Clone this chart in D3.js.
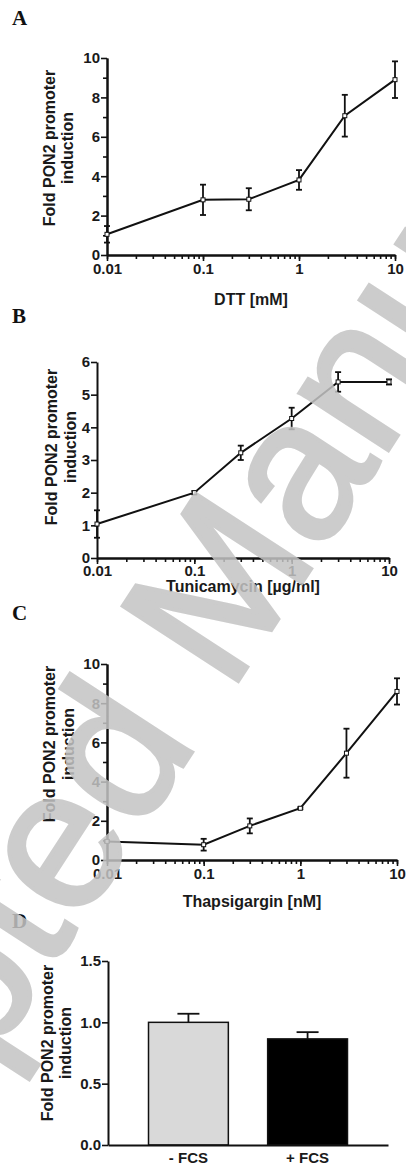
<!DOCTYPE html>
<html>
<head>
<meta charset="utf-8">
<script src="https://cdn.jsdelivr.net/npm/d3@7"></script>
<style>
  body { margin: 0; background: #fff; }
  svg text { font-family: Arial, "Liberation Sans", sans-serif; }
</style>
</head>
<body>
<svg id="fig" width="406" height="1171"></svg>
<script>
// doses used in panels A-C (log axis)
var doses = [0.01, 0.1, 0.3, 1, 3, 10];
var doseTicks = [0.01, 0.1, 1, 10];
var doseTickLabels = ["0.01", "0.1", "1", "10"];

// A: DTT
var dttMean = [1.05, 2.8, 2.83, 3.81, 7.07, 8.9];
var dttErr = [0.42, 0.77, 0.56, 0.5, 1.06, 0.93];
// B: tunicamycin
var tunMean = [1.04, 2.0, 3.22, 4.27, 5.39, 5.39];
var tunErr = [0.42, 0.05, 0.22, 0.33, 0.3, 0.08];
// C: thapsigargin
var thapMean = [0.95, 0.78, 1.74, 2.64, 5.45, 8.6];
var thapErr = [0.05, 0.3, 0.38, 0.05, 1.25, 0.67];

var ticksTen = [0, 2, 4, 6, 8, 10];
var minorTen = [1, 3, 5, 7, 9];
var ticksSix = [0, 1, 2, 3, 4, 5, 6];

// D: serum
var fcsLabels = ["- FCS", "+ FCS"];
var fcsMean = [1.0, 0.865];
var fcsErr = [0.07, 0.055];
var fcsTicks = [0, 0.5, 1.0, 1.5];

var yTitle = ["Fold PON2 promoter", "induction"];

var svg = d3.select("#fig");
var font = 15;

function styleAxis(sel) {
  sel.select(".domain").attr("stroke", "#111").attr("stroke-width", 2);
  sel.selectAll(".tick line").attr("stroke", "#111").attr("stroke-width", 1.6);
  sel.selectAll(".tick text").attr("fill", "#1a1a1a")
    .style("font-size", font + "px").style("font-weight", "bold");
}

function panelLetter(t, y) {
  svg.append("text").attr("x", 12).attr("y", y).text(t)
    .style("font-family", "'Liberation Serif','Times New Roman',serif")
    .style("font-weight", "bold").style("font-size", "21px").attr("fill", "#111");
}

function yLabel(cx, cy, xs) {
  var t = svg.append("g").attr("transform", "translate(0," + cy + ") rotate(-90)");
  yTitle.forEach(function (s, i) {
    t.append("text").attr("x", 0).attr("y", xs[i]).attr("text-anchor", "middle")
      .text(s).attr("fill", "#1a1a1a")
      .style("font-size", "16px").style("font-weight", "bold");
  });
}

function logPanel(p) {
  var x = d3.scaleLog().domain([0.01, 10]).range([p.x0, p.x1]);
  var y = d3.scaleLinear().domain([0, p.yMax]).range([p.yBottom, p.yTop]);
  var g = svg.append("g");

  // minor x ticks, then major
  g.append("g").attr("transform", "translate(0," + p.yBottom + ")")
    .call(d3.axisBottom(x).tickValues(x.ticks()).tickSize(4).tickFormat("").tickSizeOuter(0))
    .call(styleAxis);
  g.append("g").attr("transform", "translate(0," + p.yBottom + ")")
    .call(d3.axisBottom(x).tickValues(doseTicks).tickSize(6).tickPadding(p.pad).tickSizeOuter(0)
      .tickFormat(function (d, i) { return doseTickLabels[i]; }))
    .call(styleAxis);

  if (p.yMinor) {
    g.append("g").attr("transform", "translate(" + p.x0 + ",0)")
      .call(d3.axisLeft(y).tickValues(p.yMinor).tickSize(4).tickFormat("").tickSizeOuter(0))
      .call(styleAxis);
  }
  g.append("g").attr("transform", "translate(" + p.x0 + ",0)")
    .call(d3.axisLeft(y).tickValues(p.yTicks).tickSize(6).tickPadding(1).tickSizeOuter(0)
      .tickFormat(d3.format("d")))
    .call(styleAxis);

  var pts = doses.map(function (c, i) { return { c: c, m: p.mean[i], e: p.err[i] }; });

  g.append("path").datum(pts)
    .attr("d", d3.line().x(function (d) { return x(d.c); }).y(function (d) { return y(d.m); }))
    .attr("fill", "none").attr("stroke", "#111").attr("stroke-width", 2);

  var eb = g.selectAll(".eb").data(pts).enter().append("g")
    .attr("stroke", "#111").attr("stroke-width", 1.8);
  eb.append("line")
    .attr("x1", function (d) { return x(d.c); }).attr("x2", function (d) { return x(d.c); })
    .attr("y1", function (d) { return y(d.m - d.e); }).attr("y2", function (d) { return y(d.m + d.e); });
  [-1, 1].forEach(function (s) {
    eb.append("line")
      .attr("x1", function (d) { return x(d.c) - 3; }).attr("x2", function (d) { return x(d.c) + 3; })
      .attr("y1", function (d) { return y(d.m + s * d.e); }).attr("y2", function (d) { return y(d.m + s * d.e); });
  });

  g.selectAll(".pt").data(pts).enter().append("rect")
    .attr("x", function (d) { return x(d.c) - 2; }).attr("y", function (d) { return y(d.m) - 2; })
    .attr("width", 4).attr("height", 4)
    .attr("fill", "#fff").attr("stroke", "#111").attr("stroke-width", 1);

  g.append("text").attr("x", (p.x0 + p.x1) / 2).attr("y", p.titleY).attr("text-anchor", "middle")
    .text(p.xTitle).attr("fill", "#1a1a1a").style("font-size", "16px").style("font-weight", "bold");

  panelLetter(p.letter, p.letterY);
  yLabel(0, p.labelY, p.labelX);
}

logPanel({ letter: "A", mean: dttMean, err: dttErr, xTitle: "DTT [mM]", yMax: 10,
  yTicks: ticksTen, yMinor: minorTen, x0: 107, x1: 395, yBottom: 255, yTop: 58, pad: 2,
  letterY: 25, titleY: 305, labelY: 148, labelX: [55, 73] });
logPanel({ letter: "B", mean: tunMean, err: tunErr, xTitle: "Tunicamycin [\u00b5g/ml]", yMax: 6,
  yTicks: ticksSix, yMinor: null, x0: 97, x1: 389, yBottom: 558, yTop: 362, pad: 1,
  letterY: 323, titleY: 592, labelY: 447, labelX: [57, 76] });
logPanel({ letter: "C", mean: thapMean, err: thapErr, xTitle: "Thapsigargin [nM]", yMax: 10,
  yTicks: ticksTen, yMinor: minorTen, x0: 107, x1: 397, yBottom: 860, yTop: 664, pad: 2,
  letterY: 620, titleY: 907, labelY: 744, labelX: [55, 74] });

// panel D: bar chart
(function () {
  var x = d3.scaleBand().domain(fcsLabels).range([108, 388]).paddingInner(0.33).paddingOuter(0.34);
  var y = d3.scaleLinear().domain([0, 1.5]).range([1145, 961]);
  var g = svg.append("g");
  var fills = ["#d9d9d9", "#000"];

  g.selectAll(".cap").data(fcsMean).enter().append("g").each(function (m, i) {
    var cx = x(fcsLabels[i]) + x.bandwidth() / 2;
    var s = d3.select(this).attr("stroke", "#111").attr("stroke-width", 1.8);
    s.append("line").attr("x1", cx).attr("x2", cx).attr("y1", y(m)).attr("y2", y(m + fcsErr[i]));
    s.append("line").attr("x1", cx - 11).attr("x2", cx + 11).attr("y1", y(m + fcsErr[i])).attr("y2", y(m + fcsErr[i]));
  });

  g.selectAll(".bar").data(fcsMean).enter().append("rect")
    .attr("x", function (d, i) { return x(fcsLabels[i]); })
    .attr("y", function (d) { return y(d); })
    .attr("width", x.bandwidth())
    .attr("height", function (d) { return y(0) - y(d); })
    .attr("fill", function (d, i) { return fills[i]; })
    .attr("stroke", "#111").attr("stroke-width", 1.5);

  g.append("g").attr("transform", "translate(0,1145)")
    .call(d3.axisBottom(x).tickSize(0).tickPadding(7).tickSizeOuter(0))
    .call(styleAxis);
  g.append("g").attr("transform", "translate(108,0)")
    .call(d3.axisLeft(y).tickValues(fcsTicks).tickSize(6).tickPadding(1).tickSizeOuter(0)
      .tickFormat(d3.format(".1f")))
    .call(styleAxis);

  panelLetter("D", 928);
  yLabel(0, 1043, [53, 71]);
})();

// "Accepted Manuscript" watermark over the figure, pivoted on the "d"
svg.append("g").attr("transform", "translate(125,760) rotate(-57)")
  .append("text").attr("x", -778).attr("y", 52)
  .text("Accepted Manuscript")
  .attr("fill", "#c4c4c4").attr("stroke", "#c4c4c4").attr("stroke-width", 4)
  .attr("opacity", 0.85)
  .style("font-size", "200px");
</script>
</body>
</html>
